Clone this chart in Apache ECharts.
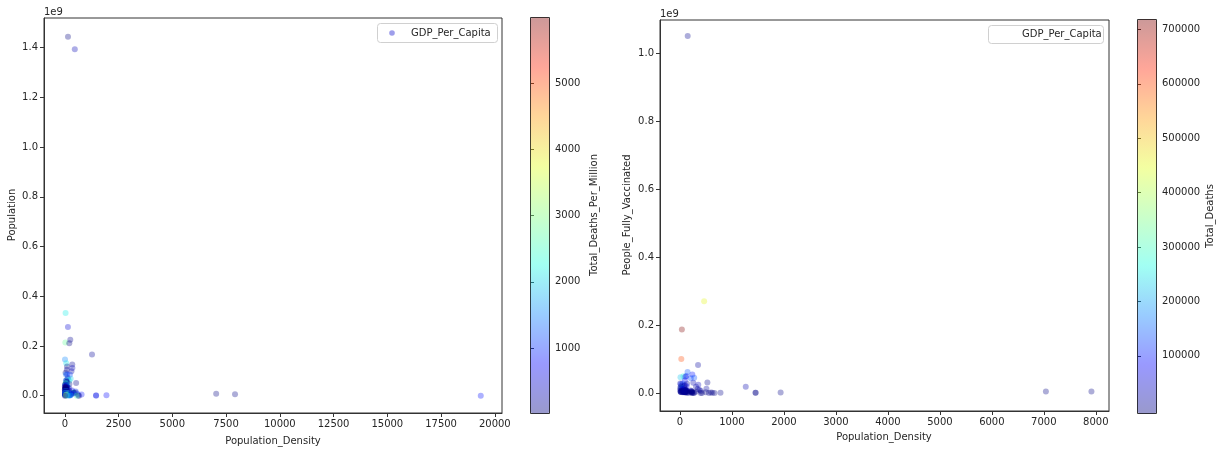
<!DOCTYPE html>
<html><head><meta charset="utf-8">
<script src="https://cdn.jsdelivr.net/npm/echarts@6/dist/echarts.min.js"></script>
<style>html,body{margin:0;padding:0;background:#fff}#c{width:1217px;height:450px}</style>
</head><body><div id="c"></div>
<script>
// ---------- Left chart: Population vs Population_Density, colour = Total_Deaths_Per_Million
const densityL = [148,464,36,145,255,25,209,1265,9,66,
347,104,352,97,308,35,105,49,237,135,
273,123,206,64,47,81,87,527,44,94,
214,16,17,23,77,88,54,124,4,80,
15,76,25,96,24,37,127,53,204,36,
44,50,76,3,16,341,71,15,85,198,
24,6,23,157,66,95,508,82,90,11,
23,43,51,495,100,423,74,10,375,398,
110,222,137,83,110,112,119,24,82,112,
108,47,107,80,400,219,7040,17,65,4,
595,307,7916,137,18,114,15,15,779,97,
70,18,55,232,73,65,20,68,103,266,
227,105,45,82,102,31,1936,266,31,623,
46,231,1454,1454,3,664,19347,557,164];
const populationL = [1444216102,1393409033,332915074,276361788,225199929,213993441,211400704,166303494,145912022,130262220,
126050796,117876226,111046910,104258327,98168829,92377986,85042736,85028760,83900471,69950844,
68207114,65426177,60367471,61498438,60041996,54806014,54985702,51305184,51265841,46745211,
47123533,45605823,44616626,44909351,43466822,41179351,39835428,37797000,38067913,37344787,
35340680,33935765,33359416,32776195,33933611,32163045,31732128,30490639,29674920,28704947,
28427333,27224262,27053629,25788217,25130810,21497306,21497097,20855724,19127772,19647681,
19212362,18994958,18920657,18249868,17888474,18275704,17173094,17196308,16946446,16914985,
16359500,15092171,13497237,13276517,12451031,12255429,11935764,11832936,11632334,11541683,
11317498,10953714,10724553,10370747,10269022,10167923,10223344,10160159,10062994,9991083,
9634162,9442867,9043072,8697550,8789776,8715494,7552800,7219638,6896655,6958538,
6769151,6518500,5896684,5813302,5548361,5449270,5465629,5223376,5222756,5139053,
4982904,4860643,4381583,4328553,4081657,3979773,3485152,3263459,2968128,2973462,
2930524,2872934,2689862,2082661,2078723,1866934,1748295,1403374,1325188,1273428,
628051,634814,543620,516100,368792,287708,39520,34010,77354];
const deathsPerMillionL = [3,325,2150,520,125,2810,14,167,1530,2180,
143,45,360,170,220,12,820,1470,1130,260,
2030,1790,2180,12,1480,340,95,55,2480,1860,
68,2560,132,63,1470,550,180,2000,740,395,
248,29,5990,860,50,60,38,58,385,160,
35,60,25,55,8,620,9,25,2000,118,
1950,700,195,800,1840,130,1070,110,170,11,
80,310,28,100,13,3,2110,1600,2200,60,
730,375,2850,1440,1070,1780,590,1450,1000,215,
3130,480,1220,1160,910,1270,28,2250,3300,690,
1200,480,48,460,200,2360,160,790,860,1330,
1070,6,1630,570,2200,3030,1750,3560,2630,760,
210,1030,1600,3500,2300,1500,790,1970,1100,100,
3900,1340,420,890,97,160,840,2660,1680];

// ---------- Right chart: People_Fully_Vaccinated vs Population_Density, colour = Total_Deaths
const densityR = [148,464,36,25,347,145,237,66,9,273,
123,206,105,94,527,308,49,135,255,352,
16,44,4,96,124,80,1265,15,25,24,
97,3,66,508,90,341,204,47,76,110,
36,77,6,85,375,112,24,83,137,112,
400,107,219,7040,7916,137,222,157,74,10,
108,18,15,70,110,119,307,97,55,20,
232,227,88,209,104,87,495,595,80,114,
73,45,1936,623,1454,1454,664,779,266,266,
231,128,423,398,557,164,238,81];
const vaccinatedR = [1050000000,270000000,187000000,100000000,82000000,62000000,54000000,49000000,46000000,45000000,
50000000,43000000,48000000,37000000,31000000,18000000,28000000,27000000,30000000,24000000,
26000000,22000000,28000000,23000000,19800000,21000000,18000000,19000000,15000000,14000000,
6000000,14000000,10500000,12500000,13000000,12000000,7000000,12000000,6000000,7500000,
7000000,7000000,7500000,5500000,8500000,8700000,6800000,6200000,6000000,8700000,
5700000,5600000,5400000,4600000,4700000,4400000,4800000,2700000,4000000,3500000,
5700000,3700000,3700000,3700000,3500000,4000000,3500000,2700000,2700000,2600000,
2900000,2300000,3000000,2500000,2000000,2000000,2000000,1700000,2900000,2300000,
1850000,1800000,1100000,800000,470000,360000,110000,1000000,300000,600000,
420000,600000,0,10000,24000,50000,24000,7000000];
const totalDeathsR = [4636,455000,718000,600000,18000,143000,94000,283000,222000,138000,
117000,131000,69000,87000,2700,21000,124000,18000,28000,40000,
115000,127000,28000,28000,76000,14600,27800,8700,200000,37500,
18000,1500,33000,18200,2900,13300,11500,89000,1000,8200,
4600,64000,13000,39000,25800,18100,14900,15000,30500,2100,
8000,11000,11100,213,280,2700,4100,14000,25000,18800,
30200,1100,870,5300,11000,6000,3000,6800,7200,6100,
2450,605,22500,2970,6100,5300,1300,8200,10300,12900,
9000,4900,1390,150,460,228,80,4500,2200,2800,
840,570,38,700,90,130,60,18700];

// ---------- tick values
const xTicksL = [0,2500,5000,7500,10000,12500,15000,17500,20000];
const yTicksL = [0,2e8,4e8,6e8,8e8,10e8,12e8,14e8];
const xTicksR = [0,1000,2000,3000,4000,5000,6000,7000,8000];
const yTicksR = [0,2e8,4e8,6e8,8e8,10e8];
const cbTicksL = [1000,2000,3000,4000,5000];
const cbTicksR = [100000,200000,300000,400000,500000,600000,700000];

const FONT = 'DejaVu Sans';
const TXT = '#262626';
const LINE = '#333';
const A = 0.4;
const JET = [[0,0,128],[0,0,255],[0,128,255],[20,255,226],[124,255,121],[226,255,20],[255,151,0],[255,33,0],[128,0,0]]
  .map(c => `rgba(${c[0]},${c[1]},${c[2]},${A})`);

function valAxis(gridIndex, min, max, ticks, fmt, extra) {
  return Object.assign({
    type: 'value', gridIndex, min, max,
    splitLine: {show: false},
    axisLine: {show: true, onZero: false, lineStyle: {color: LINE, width: 1}},
    axisTick: {show: true, length: 4, customValues: ticks, lineStyle: {color: LINE, width: 1}},
    axisLabel: {customValues: ticks, formatter: fmt, margin: 6, fontSize: 10, fontFamily: FONT, color: TXT}
  }, extra || {});
}
const plain = v => String(v);
const e9 = v => (v / 1e9).toFixed(1);

function txt(x, y, s, align, rot) {
  return {
    type: 'text', x, y, rotation: rot || 0, z: 20,
    style: {text: s, fontSize: 10, fontFamily: FONT, fill: TXT, textAlign: align || 'center', textVerticalAlign: 'middle'}
  };
}
function legendBox(x, y, w, h, textX, dotX, dotColor) {
  const els = [
    {type: 'rect', z: 15, shape: {x: x + 0.5, y: y + 0.5, width: w, height: h, r: 3},
     style: {fill: 'rgba(255,255,255,0.8)', stroke: '#d0d0d0', lineWidth: 1}},
    txt(textX, y + h / 2 + 0.5, 'GDP_Per_Capita', 'left')
  ];
  if (dotColor) els.push({type: 'circle', z: 16, shape: {cx: dotX, cy: y + h / 2 + 0.5, r: 2.8}, style: {fill: dotColor}});
  return els;
}

const chart = echarts.init(document.getElementById('c'), null, {renderer: 'canvas'});
chart.setOption({
  animation: false,
  backgroundColor: '#fff',
  textStyle: {fontFamily: FONT},
  grid: [
    {left: 44, top: 18, width: 458, height: 395, show: true, borderColor: LINE, borderWidth: 1, containLabel: false},
    {left: 660, top: 20, width: 449, height: 391, show: true, borderColor: LINE, borderWidth: 1, containLabel: false},
    {left: 530, top: 17, width: 19, height: 396, containLabel: false},
    {left: 1137, top: 19, width: 19, height: 394, containLabel: false}
  ],
  xAxis: [
    valAxis(0, -968, 20334, xTicksL, plain),
    valAxis(1, -385, 8254, xTicksR, plain),
    {type: 'value', gridIndex: 2, show: false, min: 0, max: 1},
    {type: 'value', gridIndex: 3, show: false, min: 0, max: 1}
  ],
  yAxis: [
    valAxis(0, -0.0695e9, 1.5195e9, yTicksL, e9),
    valAxis(1, -0.053e9, 1.097e9, yTicksR, e9),
    valAxis(2, 19, 5996, cbTicksL, plain, {position: 'right', axisLine: {show: false}}),
    valAxis(3, -5000, 719000, cbTicksR, plain, {position: 'right', axisLine: {show: false}})
  ],
  visualMap: [
    {type: 'continuous', seriesIndex: 0, dimension: 2, min: 19, max: 5996,
     left: 530, top: 17, itemWidth: 19, itemHeight: 396, padding: 0,
     calculable: false, hoverLink: false, text: null,
     inRange: {color: JET}, outOfRange: {color: ['rgba(0,0,0,0)']},
     borderColor: LINE, borderWidth: 1},
    {type: 'continuous', seriesIndex: 1, dimension: 2, min: -5000, max: 719000,
     left: 1137, top: 19, itemWidth: 19, itemHeight: 394, padding: 0,
     calculable: false, hoverLink: false, text: null,
     inRange: {color: JET}, outOfRange: {color: ['rgba(0,0,0,0)']},
     borderColor: LINE, borderWidth: 1}
  ],
  series: [
    {type: 'scatter', name: 'GDP_Per_Capita', xAxisIndex: 0, yAxisIndex: 0, symbolSize: 6,
     emphasis: {disabled: true},
     data: densityL.map((d, i) => [d, populationL[i], deathsPerMillionL[i]])},
    {type: 'scatter', name: 'GDP_Per_Capita', xAxisIndex: 1, yAxisIndex: 1, symbolSize: 6,
     emphasis: {disabled: true},
     data: densityR.map((d, i) => [d, vaccinatedR[i], totalDeathsR[i]])}
  ],
  graphic: [
    txt(44, 12, '1e9', 'left'),
    txt(660, 14, '1e9', 'left'),
    txt(12, 215, 'Population', 'center', Math.PI / 2),
    txt(627, 215, 'People_Fully_Vaccinated', 'center', Math.PI / 2),
    txt(273, 441, 'Population_Density'),
    txt(884, 437, 'Population_Density'),
    txt(594, 215, 'Total_Deaths_Per_Million', 'center', Math.PI / 2),
    txt(1210, 216, 'Total_Deaths', 'center', Math.PI / 2)
  ].concat(
    legendBox(377, 23, 120, 19, 411, 392, 'rgba(40,40,210,0.45)'),
    legendBox(988, 25, 115, 18, 1022, 0, null)
  )
});
</script>
</body></html>
